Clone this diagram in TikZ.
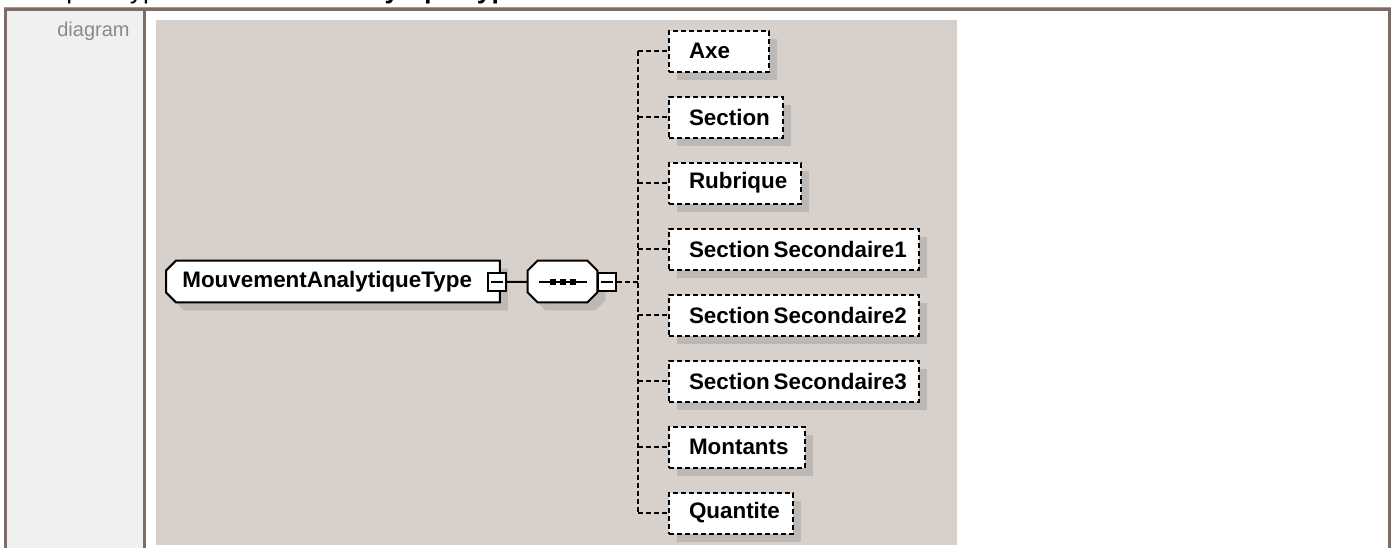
\documentclass[tikz,border=0pt]{standalone}
\usepackage{fontspec}
\setmainfont{Liberation Sans}
\usepackage{tikz}
\usetikzlibrary{positioning,calc,shadows,backgrounds}
\definecolor{bordure}{HTML}{7F6B64}
\definecolor{cellule}{HTML}{F0F0F0}
\definecolor{fond}{HTML}{D8D0CA}
\definecolor{ombre}{HTML}{BBB8B5}
\definecolor{gris}{HTML}{8A8A8A}

\begin{document}
\begin{tikzpicture}[
  x=0.5pt, y=-0.5pt,
  nom/.style={font=\fontsize{11.2}{13}\selectfont\bfseries},
  ombrage/.style={drop shadow={shadow xshift=4pt, shadow yshift=-4pt, fill=ombre, opacity=1}},
  forme/.style={draw, line width=1pt, fill=white, ombrage},
  enfant/.style={nom, draw, dash pattern=on 2.5pt off 1.5pt, line width=1pt, fill=white, ombrage,
                 anchor=west, align=left, inner xsep=0pt, minimum height=20.5pt},
  bouton/.style={draw, line width=1pt, fill=white, minimum size=9pt, inner sep=0pt},
  lien/.style={line width=1pt},
  pointille/.style={dash pattern=on 2.5pt off 1.5pt}
]
  \useasboundingbox (0,0) rectangle (1391,548);

  \begin{scope}[on background layer]
    \fill[bordure!70] (4,7) rectangle (1391,8);
    \fill[bordure] (4,8) rectangle (1391,11);
    \fill[bordure] (4,8) rectangle (7,548);
    \fill[cellule] (7,11) rectangle (143,548);
    \fill[bordure] (143,11) rectangle (146,548);
    \fill[bordure] (1388,8) rectangle (1391,548);
    \fill[fond] (156,20) rectangle (957,545);
  \end{scope}

  \node[anchor=base west, inner sep=0pt, font=\fontsize{13.25}{15}\selectfont] (titre) at (16,-1.5)
        {complexType \textbf{MouvementAnalytiqueType}};
  \node[anchor=base east, inner sep=0pt, text=gris, font=\fontsize{10}{12}\selectfont] (etiquette) at (130,36.5) {diagram};

  \node[nom, anchor=west, align=left, text width=166.5pt, inner xsep=0pt, minimum height=20.5pt] (mat) at (166,281.5)
        {\hspace*{8pt}MouvementAnalytiqueType};
  \node[minimum width=34.5pt, minimum height=20.5pt, inner sep=0pt] (seq) at (562.5,281.5) {};

  \begin{scope}[on background layer]
    \draw[forme] ($(mat.north west)+(10,0)$) -- (mat.north east) -- (mat.south east)
      -- ($(mat.south west)+(10,0)$) -- ($(mat.south west)+(0,-10)$) -- ($(mat.north west)+(0,10)$) -- cycle;
    \draw[forme] ($(seq.north west)+(10,0)$) -- ($(seq.north east)+(-10,0)$) -- ($(seq.north east)+(0,10)$)
      -- ($(seq.south east)+(0,-10)$) -- ($(seq.south east)+(-10,0)$) -- ($(seq.south west)+(10,0)$)
      -- ($(seq.south west)+(0,-10)$) -- ($(seq.north west)+(0,10)$) -- cycle;
  \end{scope}

  \draw[lien] ($(seq.center)+(-24,0)$) -- ($(seq.center)+(24,0)$);
  \fill ($(seq.center)+(-13,-3)$) rectangle +(6,6);
  \fill ($(seq.center)+(-3,-3)$) rectangle +(6,6);
  \fill ($(seq.center)+(7,-3)$) rectangle +(6,6);

  \node[bouton] (bmat) at (497,282) {};
  \draw[lien] (bmat.center) +(-6,0) -- +(6,0);
  \node[bouton] (bseq) at (607,282) {};
  \draw[lien] (bseq.center) +(-6,0) -- +(6,0);
  \draw[lien] (bmat) -- (seq);

  \node[enfant, text width=50pt] (axe) at (668,51) {\hspace*{10pt}Axe};
  \node[enfant, text width=57pt] (section) at (668,117) {\hspace*{10pt}Section};
  \node[enfant, text width=66pt] (rubrique) at (668,183) {\hspace*{10pt}Rubrique};
  \node[enfant, text width=125pt] (ss1) at (668,249) {\hspace*{10pt}Section\,Secondaire1};
  \node[enfant, text width=125pt] (ss2) at (668,315) {\hspace*{10pt}Section\,Secondaire2};
  \node[enfant, text width=125pt] (ss3) at (668,381) {\hspace*{10pt}Section\,Secondaire3};
  \node[enfant, text width=68pt] (montants) at (668,447) {\hspace*{10pt}Montants};
  \node[enfant, text width=62pt] (quantite) at (668,513) {\hspace*{10pt}Quantite};

  \coordinate (tronc) at (638,282);
  \draw[lien, pointille] (bseq) -- (tronc);
  \draw[lien, pointille] (tronc |- axe.west) -- (tronc |- quantite.west);
  \draw[lien, pointille] (tronc |- axe.west) -- (axe);
  \draw[lien, pointille] (tronc |- section.west) -- (section);
  \draw[lien, pointille] (tronc |- rubrique.west) -- (rubrique);
  \draw[lien, pointille] (tronc |- ss1.west) -- (ss1);
  \draw[lien, pointille] (tronc |- ss2.west) -- (ss2);
  \draw[lien, pointille] (tronc |- ss3.west) -- (ss3);
  \draw[lien, pointille] (tronc |- montants.west) -- (montants);
  \draw[lien, pointille] (tronc |- quantite.west) -- (quantite);
\end{tikzpicture}
\end{document}
